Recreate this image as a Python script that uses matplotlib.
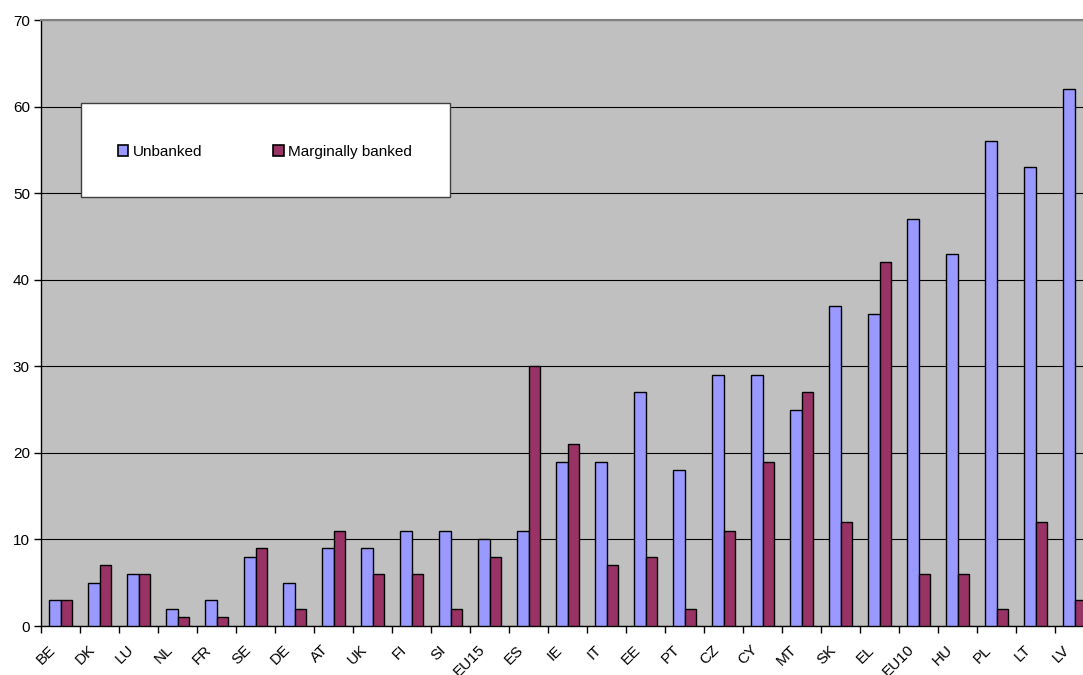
import matplotlib
matplotlib.use("Agg")
import matplotlib.pyplot as plt
import matplotlib.transforms as mtransforms
import numpy as np
from matplotlib.patches import Rectangle
from matplotlib.ticker import FixedLocator, NullFormatter

plt.rcParams['font.family'] = ['Liberation Sans', 'DejaVu Sans']

countries = ["BE", "DK", "LU", "NL", "FR", "SE", "DE", "AT", "UK", "FI", "SI", "EU15",
             "ES", "IE", "IT", "EE", "PT", "CZ", "CY", "MT", "SK", "EL", "EU10", "HU",
             "PL", "LT", "LV"]
unbanked = [3, 5, 6, 2, 3, 8, 5, 9, 9, 11, 11, 10, 11, 19, 19, 27, 18, 29, 29, 25,
            37, 36, 47, 43, 56, 53, 62]
marginally_banked = [3, 7, 6, 1, 1, 9, 2, 11, 6, 6, 2, 8, 30, 21, 7, 8, 2, 11, 19, 27,
                     12, 42, 6, 6, 2, 12, 3]
y_ticks = [0, 10, 20, 30, 40, 50, 60, 70]

W, H = 1083, 675
fig = plt.figure(figsize=(W / 100, H / 100), dpi=100)
fig.patch.set_facecolor("white")

x0, x1, y_top, y_bot = 41, 1094, 20, 626
ax = fig.add_axes([x0 / W, 1 - y_bot / H, (x1 - x0) / W, (y_bot - y_top) / H])
ax.set_facecolor("#C0C0C0")

x = np.arange(len(countries))
bw = 0.3
ax.bar(x - bw / 2, unbanked, width=bw, color="#9999FF", edgecolor="black",
       linewidth=1.0, zorder=3, label="Unbanked")
ax.bar(x + bw / 2, marginally_banked, width=bw, color="#993366", edgecolor="black",
       linewidth=1.0, zorder=3, label="Marginally banked")

ax.set_xlim(-0.5, len(countries) - 0.5)
ax.set_ylim(0, 70)
ax.set_yticks(y_ticks)
ax.yaxis.grid(True, color="black", linewidth=0.8, zorder=0)
ax.set_axisbelow(True)

# category labels at centres, tick marks on category boundaries
ax.set_xticks(x)
ax.set_xticklabels(countries, rotation=45, ha="right", rotation_mode="anchor",
                   fontsize=11)
ax.tick_params(axis="x", which="major", length=0, pad=12)
shift = mtransforms.ScaledTranslation(-12 / 100, 0, fig.dpi_scale_trans)
for lbl in ax.get_xticklabels():
    lbl.set_transform(lbl.get_transform() + shift)
ax.xaxis.set_minor_locator(FixedLocator(np.arange(-0.5, len(countries), 1.0)))
ax.xaxis.set_minor_formatter(NullFormatter())
ax.tick_params(axis="x", which="minor", length=5, width=1, color="black")
ax.tick_params(axis="y", length=5, width=1, labelsize=11, pad=3)

for side in ("left", "bottom"):
    ax.spines[side].set_color("black")
    ax.spines[side].set_linewidth(1.0)
ax.spines["top"].set_color("#808080")
ax.spines["top"].set_linewidth(1.5)
ax.spines["right"].set_visible(False)

# legend box
lx0, lx1, ly0, ly1 = 81, 450, 103, 197
fig.patches.append(Rectangle((lx0 / W, 1 - ly1 / H), (lx1 - lx0) / W, (ly1 - ly0) / H,
                             transform=fig.transFigure, facecolor="white",
                             edgecolor="#404040", linewidth=1.0, zorder=5))
leg = fig.legend(loc="center left", bbox_to_anchor=(104 / W, 1 - 152 / H), ncol=2,
                 frameon=False, fontsize=11, handlelength=0.7, handleheight=0.7,
                 handletextpad=0.3, columnspacing=4.6)
leg.set_zorder(6)
for h in leg.legend_handles:
    h.set_linewidth(1.2)

fig.savefig("out.png", dpi=100)
